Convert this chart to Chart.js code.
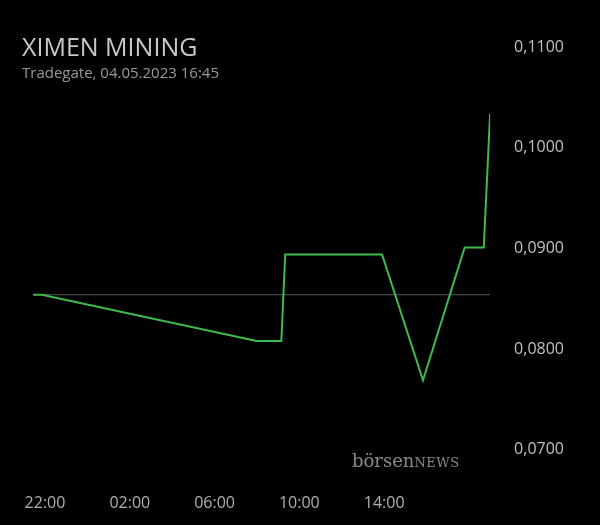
<!DOCTYPE html>
<html>
<head>
<meta charset="utf-8">
<script src="https://cdn.jsdelivr.net/npm/chart.js@4"></script>
<style>
  body { margin: 0; background: #000; overflow: hidden; }
  #wrap { position: relative; width: 600px; height: 525px; }
  #priceChart { position: absolute; left: 0; top: 0; width: 600px; height: 525px; }
  #title { position: absolute; left: 22px; top: 29px; color: #c8c8c8; font: 500 25px "Open Sans", sans-serif; }
  #sub { position: absolute; left: 22px; top: 62px; color: #9a9a9a; font: 15px "Open Sans", sans-serif; }
  #mark { position: absolute; left: 352px; top: 450px; color: #8a8a8a; font: 18px "DejaVu Serif", serif; }
  #mark span { font-size: 13px; letter-spacing: 0.5px; }
</style>
</head>
<body>
<div id="wrap">
  <canvas id="priceChart"></canvas>
  <div id="title">XIMEN MINING</div>
  <div id="sub">Tradegate, 04.05.2023 16:45</div>
  <div id="mark">börsen<span>NEWS</span></div>
</div>
<script>
// trade times (from 22:00 on the previous day) and prices
const times = ['21:26', '21:51', '07:59', '09:09', '09:20', '13:54', '15:50', '17:48', '18:42', '19:00'];
const prices = [0.0854, 0.0854, 0.0808, 0.0808, 0.0894, 0.0894, 0.0769, 0.0901, 0.0901, 0.1034];
const prevClose = 0.0854;
const tickHours = [0, 4, 8, 12, 16];
const tickLabels = ['22:00', '02:00', '06:00', '10:00', '14:00'];

// hours since 22:00
function toHours(t) {
  const [h, m] = t.split(':').map(Number);
  let v = h + m / 60 - 22;
  if (v < -2) v += 24;
  return v;
}

const xs = times.map(toHours);
const ctx = document.getElementById('priceChart');

new Chart(ctx, {
  type: 'line',
  data: {
    datasets: [
      {
        data: xs.map((x, i) => ({ x: x, y: prices[i] })),
        borderColor: '#3dbb4e',
        borderWidth: 2,
        pointRadius: 0,
        tension: 0,
      },
      {
        data: [{ x: xs[0], y: prevClose }, { x: xs[xs.length - 1], y: prevClose }],
        borderColor: '#5a5a5a',
        borderWidth: 1,
        pointRadius: 0,
      },
    ],
  },
  options: {
    responsive: true,
    maintainAspectRatio: false,
    animation: false,
    layout: { padding: { top: 47, left: 33, right: 20, bottom: -32 } },
    plugins: { legend: { display: false }, tooltip: { enabled: false } },
    scales: {
      x: {
        type: 'linear',
        min: xs[0],
        max: xs[xs.length - 1],
        grid: { display: false, drawTicks: false },
        border: { display: false },
        afterBuildTicks: axis => { axis.ticks = tickHours.map(v => ({ value: v })); },
        afterFit: axis => { axis.paddingLeft = 0; axis.paddingRight = 0; },
        ticks: {
          color: '#b0b0b0',
          font: { size: 16, family: 'Open Sans' },
          padding: 44,
          maxRotation: 0,
          callback: v => tickLabels[tickHours.indexOf(v)],
        },
      },
      y: {
        position: 'right',
        min: 0.07,
        max: 0.11,
        grid: { display: false },
        border: { display: false },
        ticks: {
          stepSize: 0.01,
          color: '#c0c0c0',
          font: { size: 16, family: 'Open Sans' },
          padding: 16,
          callback: v => v.toFixed(4).replace('.', ','),
        },
      },
    },
  },
});
</script>
</body>
</html>
